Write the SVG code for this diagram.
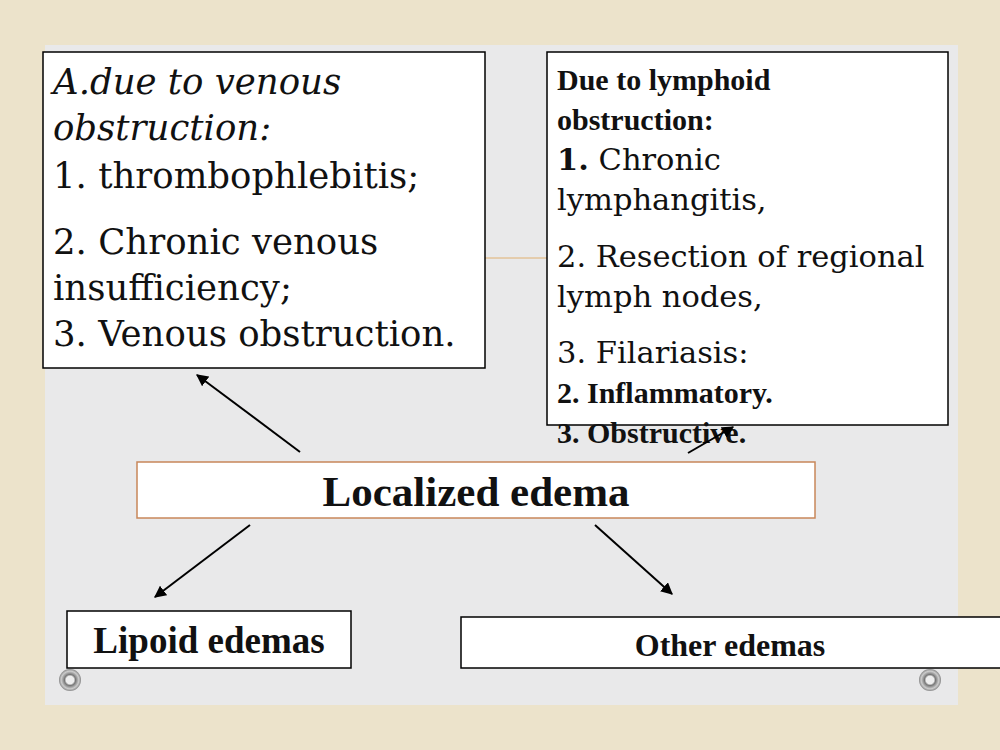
<svg xmlns="http://www.w3.org/2000/svg" width="1000" height="750" viewBox="0 0 1000 750">
<defs>
<marker id="ah" viewBox="0 0 10 10" refX="9" refY="5" markerWidth="6" markerHeight="6" orient="auto"><path d="M0,0 L10,5 L0,10 z" fill="#000"/></marker>
<radialGradient id="gr"><stop offset="0.35" stop-color="#eee"/><stop offset="0.5" stop-color="#777"/><stop offset="0.8" stop-color="#ccc"/><stop offset="1" stop-color="#888"/></radialGradient>
</defs>
<style>
.box{fill:#fff;stroke:#000;stroke-width:1.5}
.s{font-family:"DejaVu Serif","Noto Serif",serif;fill:#111}
.b{font-family:"Liberation Serif",serif;font-weight:bold;fill:#111}
.c{stroke:#000;stroke-width:2;marker-end:url(#ah)}
</style>
<rect width="1000" height="750" fill="#ece3cb"/>
<rect x="45" y="45" width="913" height="660" fill="#e9e9ea"/>
<circle cx="70" cy="680" r="11" fill="url(#gr)"/>
<circle cx="930" cy="680" r="11" fill="url(#gr)"/>
<line x1="485" y1="258" x2="547" y2="258" stroke="#e0b070" stroke-width="1"/>
<g id="venous">
<rect class="box" x="43" y="52" width="442" height="316"/>
<text class="s" font-size="35.5" font-style="italic" x="53" y="94">A.due to venous</text>
<text class="s" font-size="35.5" font-style="italic" x="53" y="140">obstruction:</text>
<text class="s" font-size="35.5" x="53" y="188">1. thrombophlebitis;</text>
<text class="s" font-size="35.5" x="53" y="254">2. Chronic venous</text>
<text class="s" font-size="35.5" x="53" y="300">insufficiency;</text>
<text class="s" font-size="35.5" x="53" y="346">3. Venous obstruction.</text>
</g>
<g id="lymph">
<rect class="box" x="547" y="52" width="401" height="373"/>
<text class="b" font-size="30" x="557" y="90">Due to lymphoid</text>
<text class="b" font-size="30" x="557" y="130">obstruction:</text>
<text class="s" font-size="30.5" x="557" y="170"><tspan font-weight="bold">1.</tspan> Chronic</text>
<text class="s" font-size="30.5" x="557" y="210">lymphangitis,</text>
<text class="s" font-size="30.5" x="557" y="267">2. Resection of regional</text>
<text class="s" font-size="30.5" x="557" y="307">lymph nodes,</text>
<text class="s" font-size="30.5" x="557" y="363">3. Filariasis:</text>
<text class="b" font-size="30" x="557" y="403">2. Inflammatory.</text>
<text class="b" font-size="30" x="557" y="443">3. Obstructive.</text>
</g>
<g id="localized">
<rect x="137" y="462" width="678" height="56" fill="#fff" stroke="#c8875a" stroke-width="1.5"/>
<text class="b" font-size="43" x="476" y="506" text-anchor="middle">Localized edema</text>
</g>
<g id="lipoid">
<rect class="box" x="67" y="611" width="284" height="57"/>
<text class="b" font-size="37" x="209" y="653" text-anchor="middle">Lipoid edemas</text>
</g>
<g id="other">
<rect class="box" x="461" y="617" width="545" height="51"/>
<text class="b" font-size="32" x="730" y="656" text-anchor="middle">Other edemas</text>
</g>
<g id="connectors">
<line class="c" x1="300" y1="452" x2="197" y2="375"/>
<line class="c" x1="688" y1="453" x2="733" y2="427"/>
<line class="c" x1="250" y1="525" x2="155" y2="597"/>
<line class="c" x1="595" y1="525" x2="672" y2="594"/>
</g>
</svg>
